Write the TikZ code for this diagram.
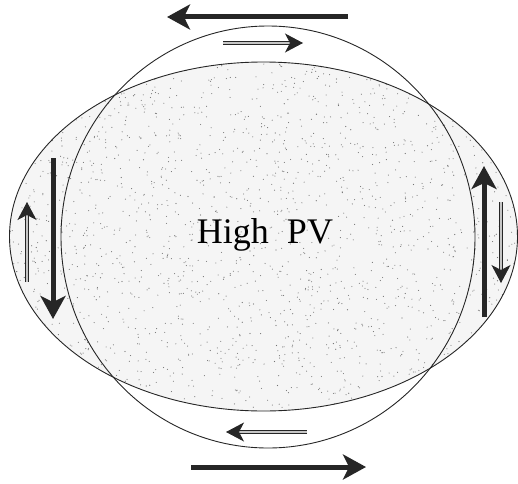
\documentclass[tikz,border=0pt]{standalone}
\usepackage{fontspec}
\setmainfont{Liberation Serif}
\usetikzlibrary{arrows.meta}
\begin{document}
\begin{tikzpicture}[x=1pt,y=1pt,
  outline/.style={draw=black!85,line width=0.9pt},
  thickarrow/.style={line width=5pt,black!85,-{Stealth[length=23pt,width=25pt,inset=6pt]}},
  thinarrow/.style={draw=black!85,line width=0.9pt,double=gray!45,double distance=2pt,
    -{Stealth[length=18pt,width=19pt,inset=5pt,fill=black!85]}},
  stipple/.style={fill=black!55}]
\useasboundingbox (0,0) rectangle (518,483);
% shaded ellipse with stipple
\fill[black!4] (263.5,246.5) ellipse [x radius=254,y radius=174.5];
\begin{scope}
\clip (263.5,246.5) ellipse [x radius=254,y radius=174.5];
\pgfmathsetseed{4242}
\foreach \i in {1,...,2200}{
  \fill[stipple] (rnd*518,70+rnd*355) circle (0.55pt);
}
\end{scope}
\draw[outline] (263.5,246.5) ellipse [x radius=254,y radius=174.5];
\draw[outline] (268,246) ellipse [x radius=207,y radius=211];
\node[font=\fontsize{36}{42}\selectfont,inner sep=0pt,fill=none] (label) at (265,248) {High\ \ PV};
% arrow end points
\coordinate (t1s) at (348,466); \coordinate (t1e) at (167,466);
\coordinate (t2s) at (223,440); \coordinate (t2e) at (303,440);
\coordinate (b2s) at (307,51);  \coordinate (b2e) at (226,51);
\coordinate (b1s) at (191,16);  \coordinate (b1e) at (366,16);
\coordinate (l1s) at (53,325);  \coordinate (l1e) at (53,164);
\coordinate (l2s) at (27,201);  \coordinate (l2e) at (27,281);
\coordinate (r1s) at (484,166); \coordinate (r1e) at (484,317);
\coordinate (r2s) at (501,281); \coordinate (r2e) at (501,200);
\draw[thickarrow] (t1s) -- (t1e);
\draw[thinarrow] (t2s) -- (t2e);
\draw[thinarrow] (b2s) -- (b2e);
\draw[thickarrow] (b1s) -- (b1e);
\draw[thickarrow] (l1s) -- (l1e);
\draw[thinarrow] (l2s) -- (l2e);
\draw[thickarrow] (r1s) -- (r1e);
\draw[thinarrow] (r2s) -- (r2e);
\end{tikzpicture}
\end{document}
